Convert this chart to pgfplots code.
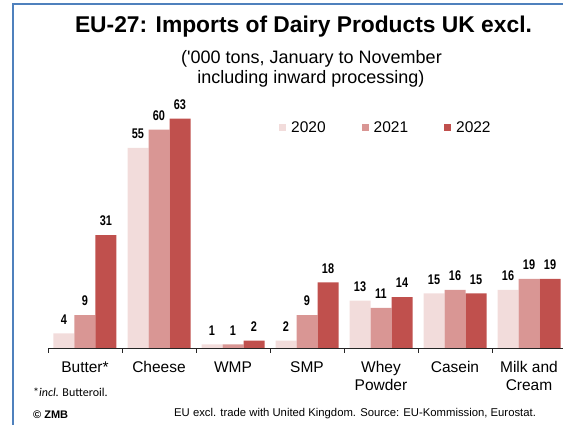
\documentclass[border=0pt]{standalone}
\usepackage{fontspec}
\setmainfont{Liberation Sans}
\newfontfamily\plainfont{Liberation Sans}[Ligatures=TeXOff]
\newfontfamily\narrowfont[FakeStretch=0.78]{Liberation Sans}
\newfontfamily\calfont{Carlito}
\usepackage{pgfplots}
\pgfplotsset{compat=1.18}
\definecolor{cA}{RGB}{242,220,219}
\definecolor{cB}{RGB}{217,150,148}
\definecolor{cC}{RGB}{192,80,77}
\definecolor{frameblue}{RGB}{79,129,189}
\begin{document}
\begin{tikzpicture}
\useasboundingbox (0pt,0pt) rectangle (563pt,425pt);
\clip (0pt,0pt) rectangle (563pt,425pt);
\draw[frameblue, line width=2pt] (12.5pt,-5pt) -- (12.5pt,420.5pt) -- (600pt,420.5pt);
\node[anchor=base, inner sep=0pt, font=\bfseries\fontsize{22.8}{27}\selectfont] at (303.5pt,392.7pt) {EU-27: Imports of Dairy Products UK excl.};
\node[anchor=base, inner sep=0pt, font=\plainfont\fontsize{18}{21}\selectfont] at (311.5pt,361.7pt) {('000 tons, January to November};
\node[anchor=base, inner sep=0pt, font=\fontsize{18}{21}\selectfont] at (311pt,341.7pt) {including inward processing)};
\begin{axis}[
  at={(85pt,77pt)}, anchor=origin,
  x=74pt, y=3.64pt,
  xmin=-0.5, xmax=6.5, ymin=0, ymax=70,
  ybar=0pt, bar width=21pt,
  axis x line*=bottom, axis y line=none,
  axis line style={black!85, line width=0.8pt},
  xtick={0,...,6},
  xticklabels={Butter*,Cheese,WMP,SMP,Whey\\Powder,Casein,Milk and\\Cream},
  major tick length=0pt,
  minor xtick={-0.5,0.5,...,6.5},
  minor tick length=5pt,
  tick align=outside,
  tick style={black!85, line width=0.8pt},
  xticklabel style={align=center, inner sep=0pt, yshift=-13.5pt, font=\fontsize{15.5}{17.7}\selectfont},
  nodes near coords={\pgfmathprintnumber[assume math mode=true]{\pgfplotspointmeta}},
  every node near coord/.append style={font=\narrowfont\bfseries\fontsize{14}{16}\selectfont, inner sep=0pt, yshift=9pt, black},
  legend columns=3,
  legend image code/.code={\fill[#1] (0pt,-3.5pt) rectangle (7pt,3.5pt);},
  legend style={draw=none, fill=none, inner sep=0pt, nodes={inner sep=0pt},
    at={(0.4459,0.8634)}, anchor=west, font=\fontsize{15.5}{18}\selectfont,
    /tikz/every odd column/.append style={column sep=5pt},
    /tikz/every even column/.append style={column sep=36pt}},
]
\addplot[fill=cA, draw=none] coordinates {(0,4) (1,55) (2,1) (3,2) (4,13) (5,15) (6,16)};
\addplot[fill=cB, draw=none] coordinates {(0,9) (1,60) (2,1) (3,9) (4,11) (5,16) (6,19)};
\addplot[fill=cC, draw=none] coordinates {(0,31) (1,63) (2,2) (3,18) (4,14) (5,15) (6,19)};
\legend{2020,2021,2022}
\end{axis}
\node[anchor=base west, inner sep=0pt, font=\calfont\fontsize{12}{14}\selectfont] at (33pt,28pt) {*\textit{incl.} Butteroil.};
\node[anchor=base west, inner sep=0pt, font=\bfseries\fontsize{11}{13}\selectfont] at (33pt,6pt) {© ZMB};
\node[anchor=base west, inner sep=0pt, font=\fontsize{11.3}{13}\selectfont] at (174pt,8.5pt) {EU excl. trade with United Kingdom. Source: EU-Kommission, Eurostat.};
\end{tikzpicture}
\end{document}
